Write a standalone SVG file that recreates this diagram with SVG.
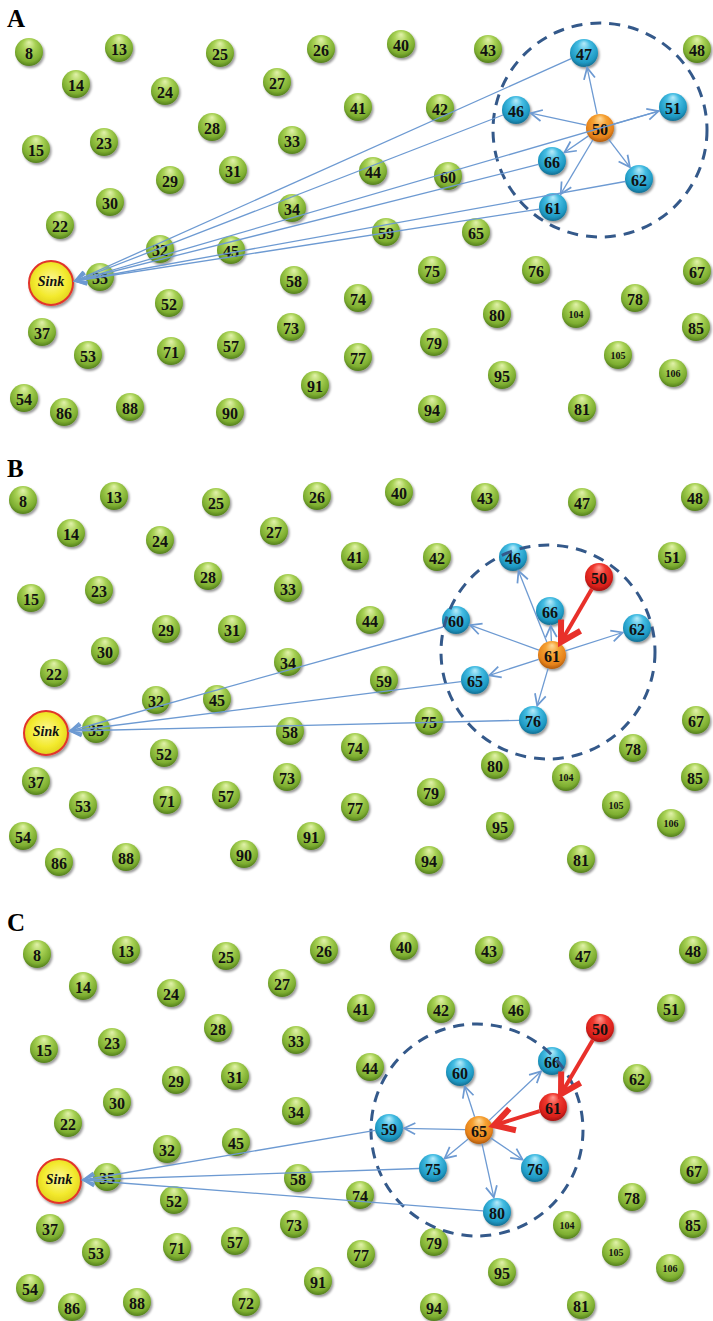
<svg xmlns="http://www.w3.org/2000/svg" width="713" height="1321" viewBox="0 0 713 1321">
<defs>
<style>
.n circle{filter:url(#sh)}
.g circle{fill:url(#gg)}
.b circle{fill:url(#gb)}
.o circle{fill:url(#go)}
.r circle{fill:url(#gr)}
.n text{font-family:"Liberation Serif","DejaVu Serif",serif;font-weight:bold;font-size:16px;text-anchor:middle;fill:#111}
.n text.s{font-size:10px}
.sink circle{fill:url(#gy);stroke:#e2352a;stroke-width:2;filter:url(#sh)}
.sink text{font-family:"Liberation Serif","DejaVu Serif",serif;font-weight:bold;font-style:italic;font-size:14px;text-anchor:middle;fill:#111}
.lbl{font-family:"Liberation Serif","DejaVu Serif",serif;font-weight:bold;font-size:25px;fill:#000}
.c{stroke:#6d9ad2;stroke-width:1.3;fill:none;marker-end:url(#ab)}
.rc{stroke:#e8302a;stroke-width:4;fill:none;marker-end:url(#ar)}
.ring{fill:none;stroke:#34598a;stroke-width:3;stroke-dasharray:11 8}
</style>
<filter id="sh" x="-40%" y="-40%" width="190%" height="190%">
<feDropShadow dx="1.5" dy="2" stdDeviation="1.3" flood-color="#000" flood-opacity="0.4"/>
</filter>
<radialGradient id="gg" cx="0.5" cy="0.42" r="0.6" fx="0.5" fy="0.15">
<stop offset="0" stop-color="#e2f2ac"/><stop offset="0.38" stop-color="#a9d256"/><stop offset="0.8" stop-color="#7dae30"/><stop offset="1" stop-color="#4e781b"/>
</radialGradient>
<radialGradient id="gb" cx="0.5" cy="0.42" r="0.6" fx="0.5" fy="0.15">
<stop offset="0" stop-color="#b8ecfa"/><stop offset="0.38" stop-color="#45bde3"/><stop offset="0.8" stop-color="#1f9ac4"/><stop offset="1" stop-color="#13698c"/>
</radialGradient>
<radialGradient id="go" cx="0.5" cy="0.42" r="0.6" fx="0.5" fy="0.15">
<stop offset="0" stop-color="#fdd99a"/><stop offset="0.38" stop-color="#f6a233"/><stop offset="0.8" stop-color="#e6821a"/><stop offset="1" stop-color="#a9560c"/>
</radialGradient>
<radialGradient id="gr" cx="0.5" cy="0.42" r="0.6" fx="0.5" fy="0.15">
<stop offset="0" stop-color="#ff9a90"/><stop offset="0.38" stop-color="#f03a30"/><stop offset="0.8" stop-color="#d9201a"/><stop offset="1" stop-color="#9c1010"/>
</radialGradient>
<radialGradient id="gy" cx="0.5" cy="0.45" r="0.6">
<stop offset="0" stop-color="#fbf79a"/><stop offset="0.6" stop-color="#f3ea2e"/><stop offset="1" stop-color="#dccb18"/>
</radialGradient>
<marker id="ab" markerUnits="userSpaceOnUse" markerWidth="20" markerHeight="20" refX="0" refY="0" viewBox="-12 -8 14 16" orient="auto" overflow="visible">
<path d="M-9,-4.5 L0,0 L-9,4.5" fill="none" stroke="#6d9ad2" stroke-width="1.4" stroke-linejoin="miter"/>
</marker>
<marker id="ar" markerUnits="userSpaceOnUse" markerWidth="30" markerHeight="30" refX="0" refY="0" viewBox="-16 -10 18 20" orient="auto" overflow="visible">
<path d="M-13,-7.5 L0,0 L-13,7.5" fill="none" stroke="#e8302a" stroke-width="4" stroke-linejoin="miter"/>
</marker>
</defs>
<rect width="713" height="1321" fill="#fff"/>

<!-- ===== Panel A ===== -->
<text class="lbl" x="7" y="27">A</text>
<g id="panelA-nodes">
<g id="a8" class="n g"><circle cx="29" cy="52" r="14"/><text x="29" y="58.5">8</text></g>
<g id="a13" class="n g"><circle cx="119" cy="48" r="14"/><text x="119" y="54.5">13</text></g>
<g id="a25" class="n g"><circle cx="220" cy="53" r="14"/><text x="220" y="59.5">25</text></g>
<g id="a26" class="n g"><circle cx="321" cy="49" r="14"/><text x="321" y="55.5">26</text></g>
<g id="a40" class="n g"><circle cx="401" cy="44" r="14"/><text x="401" y="50.5">40</text></g>
<g id="a43" class="n g"><circle cx="488" cy="49" r="14"/><text x="488" y="55.5">43</text></g>
<g id="a48" class="n g"><circle cx="697" cy="49" r="14"/><text x="697" y="55.5">48</text></g>
<g id="a14" class="n g"><circle cx="76" cy="84" r="14"/><text x="76" y="90.5">14</text></g>
<g id="a24" class="n g"><circle cx="165" cy="91" r="14"/><text x="165" y="97.5">24</text></g>
<g id="a27" class="n g"><circle cx="277" cy="82" r="14"/><text x="277" y="88.5">27</text></g>
<g id="a41" class="n g"><circle cx="358" cy="107" r="14"/><text x="358" y="113.5">41</text></g>
<g id="a42" class="n g"><circle cx="440" cy="108" r="14"/><text x="440" y="114.5">42</text></g>
<g id="a28" class="n g"><circle cx="212" cy="127" r="14"/><text x="212" y="133.5">28</text></g>
<g id="a33" class="n g"><circle cx="292" cy="140" r="14"/><text x="292" y="146.5">33</text></g>
<g id="a15" class="n g"><circle cx="36" cy="149" r="14"/><text x="36" y="155.5">15</text></g>
<g id="a23" class="n g"><circle cx="104" cy="142" r="14"/><text x="104" y="148.5">23</text></g>
<g id="a31" class="n g"><circle cx="233" cy="170" r="14"/><text x="233" y="176.5">31</text></g>
<g id="a29" class="n g"><circle cx="170" cy="180" r="14"/><text x="170" y="186.5">29</text></g>
<g id="a30" class="n g"><circle cx="110" cy="202" r="14"/><text x="110" y="208.5">30</text></g>
<g id="a34" class="n g"><circle cx="292" cy="208" r="14"/><text x="292" y="214.5">34</text></g>
<g id="a44" class="n g"><circle cx="373" cy="171" r="14"/><text x="373" y="177.5">44</text></g>
<g id="a60" class="n g"><circle cx="448" cy="176" r="14"/><text x="448" y="182.5">60</text></g>
<g id="a22" class="n g"><circle cx="60" cy="225" r="14"/><text x="60" y="231.5">22</text></g>
<g id="a32" class="n g"><circle cx="160" cy="249" r="14"/><text x="160" y="255.5">32</text></g>
<g id="a45" class="n g"><circle cx="231" cy="250" r="14"/><text x="231" y="256.5">45</text></g>
<g id="a59" class="n g"><circle cx="386" cy="232" r="14"/><text x="386" y="238.5">59</text></g>
<g id="a65" class="n g"><circle cx="476" cy="232" r="14"/><text x="476" y="238.5">65</text></g>
<g id="a35" class="n g"><circle cx="100" cy="277" r="14"/><text x="100" y="283.5">35</text></g>
<g id="a58" class="n g"><circle cx="294" cy="280" r="14"/><text x="294" y="286.5">58</text></g>
<g id="a75" class="n g"><circle cx="432" cy="270" r="14"/><text x="432" y="276.5">75</text></g>
<g id="a76" class="n g"><circle cx="536" cy="270" r="14"/><text x="536" y="276.5">76</text></g>
<g id="a67" class="n g"><circle cx="697" cy="271" r="14"/><text x="697" y="277.5">67</text></g>
<g id="a74" class="n g"><circle cx="358" cy="298" r="14"/><text x="358" y="304.5">74</text></g>
<g id="a78" class="n g"><circle cx="635" cy="298" r="14"/><text x="635" y="304.5">78</text></g>
<g id="a52" class="n g"><circle cx="169" cy="303" r="14"/><text x="169" y="309.5">52</text></g>
<g id="a80" class="n g"><circle cx="497" cy="314" r="14"/><text x="497" y="320.5">80</text></g>
<g id="a104" class="n g"><circle cx="576" cy="314" r="14"/><text class="s" x="576" y="318">104</text></g>
<g id="a73" class="n g"><circle cx="291" cy="327" r="14"/><text x="291" y="333.5">73</text></g>
<g id="a85" class="n g"><circle cx="696" cy="327" r="14"/><text x="696" y="333.5">85</text></g>
<g id="a37" class="n g"><circle cx="42" cy="332" r="14"/><text x="42" y="338.5">37</text></g>
<g id="a79" class="n g"><circle cx="434" cy="342" r="14"/><text x="434" y="348.5">79</text></g>
<g id="a57" class="n g"><circle cx="231" cy="345" r="14"/><text x="231" y="351.5">57</text></g>
<g id="a71" class="n g"><circle cx="171" cy="351" r="14"/><text x="171" y="357.5">71</text></g>
<g id="a53" class="n g"><circle cx="88" cy="355" r="14"/><text x="88" y="361.5">53</text></g>
<g id="a77" class="n g"><circle cx="358" cy="357" r="14"/><text x="358" y="363.5">77</text></g>
<g id="a105" class="n g"><circle cx="618" cy="355" r="14"/><text class="s" x="618" y="359">105</text></g>
<g id="a95" class="n g"><circle cx="502" cy="375" r="14"/><text x="502" y="381.5">95</text></g>
<g id="a106" class="n g"><circle cx="673" cy="373" r="14"/><text class="s" x="673" y="377">106</text></g>
<g id="a91" class="n g"><circle cx="315" cy="385" r="14"/><text x="315" y="391.5">91</text></g>
<g id="a54" class="n g"><circle cx="24" cy="398" r="14"/><text x="24" y="404.5">54</text></g>
<g id="a86" class="n g"><circle cx="64" cy="412" r="14"/><text x="64" y="418.5">86</text></g>
<g id="a88" class="n g"><circle cx="130" cy="407" r="14"/><text x="130" y="413.5">88</text></g>
<g id="a90" class="n g"><circle cx="230" cy="412" r="14"/><text x="230" y="418.5">90</text></g>
<g id="a94" class="n g"><circle cx="432" cy="409" r="14"/><text x="432" y="415.5">94</text></g>
<g id="a81" class="n g"><circle cx="582" cy="408" r="14"/><text x="582" y="414.5">81</text></g>
<g id="a47" class="n b"><circle cx="584" cy="53" r="14"/><text x="584" y="59.5">47</text></g>
<g id="a46" class="n b"><circle cx="516" cy="110" r="14"/><text x="516" y="116.5">46</text></g>
<g id="a51" class="n b"><circle cx="673" cy="107" r="14"/><text x="673" y="113.5">51</text></g>
<g id="a66" class="n b"><circle cx="552" cy="161" r="14"/><text x="552" y="167.5">66</text></g>
<g id="a62" class="n b"><circle cx="639" cy="179" r="14"/><text x="639" y="185.5">62</text></g>
<g id="a61" class="n b"><circle cx="553" cy="207" r="14"/><text x="553" y="213.5">61</text></g>
<g id="a50" class="n o"><circle cx="600" cy="128" r="14"/><text x="600" y="134.5">50</text></g>
<g id="aSink" class="sink"><circle cx="51" cy="283" r="22"/><text x="51" y="286">Sink</text></g>
</g>
<g id="panelA-connectors">
<circle class="ring" cx="600" cy="130" r="107"/>
<line class="c" x1="597.1" y1="114.3" x2="587.1" y2="67.7"/>
<line class="c" x1="586.3" y1="125.1" x2="530.7" y2="113.1"/>
<line class="c" x1="613.5" y1="124.1" x2="658.6" y2="111.1"/>
<line class="c" x1="588.5" y1="135.9" x2="564.4" y2="152.5"/>
<line class="c" x1="608.5" y1="139.1" x2="629.9" y2="167.1"/>
<line class="c" x1="592.8" y1="140" x2="560.7" y2="194.1"/>
<line class="c" x1="571.2" y1="58.7" x2="75" y2="281"/>
<line class="c" x1="503" y1="115" x2="75" y2="281"/>
<line class="c" x1="659.6" y1="110.9" x2="75" y2="281"/>
<line class="c" x1="538.4" y1="164.4" x2="75" y2="281"/>
<line class="c" x1="625.2" y1="181.5" x2="75" y2="281"/>
<line class="c" x1="539.2" y1="209.1" x2="75" y2="281"/>
</g>

<!-- ===== Panel B ===== -->
<text class="lbl" x="7" y="477">B</text>
<g id="panelB-nodes">
<g id="b8" class="n g"><circle cx="23" cy="500" r="14"/><text x="23" y="506.5">8</text></g>
<g id="b13" class="n g"><circle cx="114" cy="496" r="14"/><text x="114" y="502.5">13</text></g>
<g id="b25" class="n g"><circle cx="216" cy="502" r="14"/><text x="216" y="508.5">25</text></g>
<g id="b26" class="n g"><circle cx="317" cy="496" r="14"/><text x="317" y="502.5">26</text></g>
<g id="b40" class="n g"><circle cx="399" cy="492" r="14"/><text x="399" y="498.5">40</text></g>
<g id="b43" class="n g"><circle cx="485" cy="497" r="14"/><text x="485" y="503.5">43</text></g>
<g id="b47" class="n g"><circle cx="582" cy="502" r="14"/><text x="582" y="508.5">47</text></g>
<g id="b48" class="n g"><circle cx="695" cy="497" r="14"/><text x="695" y="503.5">48</text></g>
<g id="b14" class="n g"><circle cx="71" cy="533" r="14"/><text x="71" y="539.5">14</text></g>
<g id="b24" class="n g"><circle cx="160" cy="540" r="14"/><text x="160" y="546.5">24</text></g>
<g id="b27" class="n g"><circle cx="274" cy="531" r="14"/><text x="274" y="537.5">27</text></g>
<g id="b41" class="n g"><circle cx="355" cy="556" r="14"/><text x="355" y="562.5">41</text></g>
<g id="b42" class="n g"><circle cx="437" cy="557" r="14"/><text x="437" y="563.5">42</text></g>
<g id="b51" class="n g"><circle cx="672" cy="556" r="14"/><text x="672" y="562.5">51</text></g>
<g id="b28" class="n g"><circle cx="208" cy="576" r="14"/><text x="208" y="582.5">28</text></g>
<g id="b33" class="n g"><circle cx="288" cy="588" r="14"/><text x="288" y="594.5">33</text></g>
<g id="b15" class="n g"><circle cx="31" cy="598" r="14"/><text x="31" y="604.5">15</text></g>
<g id="b23" class="n g"><circle cx="99" cy="590" r="14"/><text x="99" y="596.5">23</text></g>
<g id="b44" class="n g"><circle cx="370" cy="620" r="14"/><text x="370" y="626.5">44</text></g>
<g id="b29" class="n g"><circle cx="166" cy="629" r="14"/><text x="166" y="635.5">29</text></g>
<g id="b31" class="n g"><circle cx="232" cy="629" r="14"/><text x="232" y="635.5">31</text></g>
<g id="b30" class="n g"><circle cx="105" cy="651" r="14"/><text x="105" y="657.5">30</text></g>
<g id="b34" class="n g"><circle cx="288" cy="662" r="14"/><text x="288" y="668.5">34</text></g>
<g id="b22" class="n g"><circle cx="54" cy="673" r="14"/><text x="54" y="679.5">22</text></g>
<g id="b32" class="n g"><circle cx="156" cy="700" r="14"/><text x="156" y="706.5">32</text></g>
<g id="b45" class="n g"><circle cx="217" cy="699" r="14"/><text x="217" y="705.5">45</text></g>
<g id="b59" class="n g"><circle cx="384" cy="680" r="14"/><text x="384" y="686.5">59</text></g>
<g id="b35" class="n g"><circle cx="96" cy="729" r="14"/><text x="96" y="735.5">35</text></g>
<g id="b58" class="n g"><circle cx="290" cy="731" r="14"/><text x="290" y="737.5">58</text></g>
<g id="b75" class="n g"><circle cx="429" cy="721" r="14"/><text x="429" y="727.5">75</text></g>
<g id="b67" class="n g"><circle cx="696" cy="720" r="14"/><text x="696" y="726.5">67</text></g>
<g id="b74" class="n g"><circle cx="355" cy="747" r="14"/><text x="355" y="753.5">74</text></g>
<g id="b78" class="n g"><circle cx="633" cy="748" r="14"/><text x="633" y="754.5">78</text></g>
<g id="b52" class="n g"><circle cx="164" cy="753" r="14"/><text x="164" y="759.5">52</text></g>
<g id="b80" class="n g"><circle cx="495" cy="765" r="14"/><text x="495" y="771.5">80</text></g>
<g id="b104" class="n g"><circle cx="566" cy="777" r="14"/><text class="s" x="566" y="781">104</text></g>
<g id="b85" class="n g"><circle cx="695" cy="777" r="14"/><text x="695" y="783.5">85</text></g>
<g id="b73" class="n g"><circle cx="287" cy="777" r="14"/><text x="287" y="783.5">73</text></g>
<g id="b37" class="n g"><circle cx="36" cy="781" r="14"/><text x="36" y="787.5">37</text></g>
<g id="b79" class="n g"><circle cx="431" cy="792" r="14"/><text x="431" y="798.5">79</text></g>
<g id="b57" class="n g"><circle cx="226" cy="795" r="14"/><text x="226" y="801.5">57</text></g>
<g id="b71" class="n g"><circle cx="167" cy="800" r="14"/><text x="167" y="806.5">71</text></g>
<g id="b53" class="n g"><circle cx="83" cy="805" r="14"/><text x="83" y="811.5">53</text></g>
<g id="b77" class="n g"><circle cx="355" cy="807" r="14"/><text x="355" y="813.5">77</text></g>
<g id="b105" class="n g"><circle cx="616" cy="805" r="14"/><text class="s" x="616" y="809">105</text></g>
<g id="b95" class="n g"><circle cx="500" cy="826" r="14"/><text x="500" y="832.5">95</text></g>
<g id="b106" class="n g"><circle cx="671" cy="823" r="14"/><text class="s" x="671" y="827">106</text></g>
<g id="b91" class="n g"><circle cx="311" cy="836" r="14"/><text x="311" y="842.5">91</text></g>
<g id="b54" class="n g"><circle cx="23" cy="836" r="14"/><text x="23" y="842.5">54</text></g>
<g id="b86" class="n g"><circle cx="59" cy="862" r="14"/><text x="59" y="868.5">86</text></g>
<g id="b88" class="n g"><circle cx="126" cy="857" r="14"/><text x="126" y="863.5">88</text></g>
<g id="b90" class="n g"><circle cx="244" cy="854" r="14"/><text x="244" y="860.5">90</text></g>
<g id="b94" class="n g"><circle cx="429" cy="860" r="14"/><text x="429" y="866.5">94</text></g>
<g id="b81" class="n g"><circle cx="581" cy="859" r="14"/><text x="581" y="865.5">81</text></g>
<g id="b46" class="n b"><circle cx="513" cy="557" r="14"/><text x="513" y="563.5">46</text></g>
<g id="b60" class="n b"><circle cx="456" cy="620" r="14"/><text x="456" y="626.5">60</text></g>
<g id="b66" class="n b"><circle cx="550" cy="611" r="14"/><text x="550" y="617.5">66</text></g>
<g id="b62" class="n b"><circle cx="637" cy="628" r="14"/><text x="637" y="634.5">62</text></g>
<g id="b65" class="n b"><circle cx="475" cy="680" r="14"/><text x="475" y="686.5">65</text></g>
<g id="b76" class="n b"><circle cx="533" cy="720" r="14"/><text x="533" y="726.5">76</text></g>
<g id="b61" class="n o"><circle cx="552" cy="655" r="14"/><text x="552" y="661.5">61</text></g>
<g id="b50" class="n r"><circle cx="599" cy="577" r="14"/><text x="599" y="583.5">50</text></g>
<g id="bSink" class="sink"><circle cx="46" cy="733" r="22"/><text x="46" y="736">Sink</text></g>
</g>
<g id="panelB-connectors">
<circle class="ring" cx="548" cy="652" r="107"/>
<line class="c" x1="546.8" y1="642" x2="518.5" y2="570.9"/>
<line class="c" x1="551.4" y1="641" x2="550.7" y2="626"/>
<line class="c" x1="565.3" y1="650.8" x2="622.7" y2="632.5"/>
<line class="c" x1="538.9" y1="650.2" x2="470.1" y2="625.1"/>
<line class="c" x1="538.7" y1="659.3" x2="489.3" y2="675.4"/>
<line class="c" x1="548.1" y1="668.4" x2="537.2" y2="705.6"/>
<line class="c" x1="443" y1="627" x2="70" y2="731"/>
<line class="c" x1="461.1" y1="681.7" x2="70" y2="731"/>
<line class="c" x1="519" y1="720.3" x2="70" y2="731"/>
<line class="rc" x1="591.8" y1="589" x2="561" y2="642"/>
</g>

<!-- ===== Panel C ===== -->
<text class="lbl" x="7" y="931">C</text>
<g id="panelC-nodes">
<g id="c8" class="n g"><circle cx="37" cy="954" r="14"/><text x="37" y="960.5">8</text></g>
<g id="c13" class="n g"><circle cx="126" cy="950" r="14"/><text x="126" y="956.5">13</text></g>
<g id="c25" class="n g"><circle cx="226" cy="956" r="14"/><text x="226" y="962.5">25</text></g>
<g id="c26" class="n g"><circle cx="324" cy="950" r="14"/><text x="324" y="956.5">26</text></g>
<g id="c40" class="n g"><circle cx="404" cy="946" r="14"/><text x="404" y="952.5">40</text></g>
<g id="c43" class="n g"><circle cx="489" cy="950" r="14"/><text x="489" y="956.5">43</text></g>
<g id="c47" class="n g"><circle cx="583" cy="955" r="14"/><text x="583" y="961.5">47</text></g>
<g id="c48" class="n g"><circle cx="693" cy="950" r="14"/><text x="693" y="956.5">48</text></g>
<g id="c14" class="n g"><circle cx="83" cy="986" r="14"/><text x="83" y="992.5">14</text></g>
<g id="c24" class="n g"><circle cx="171" cy="993" r="14"/><text x="171" y="999.5">24</text></g>
<g id="c27" class="n g"><circle cx="282" cy="983" r="14"/><text x="282" y="989.5">27</text></g>
<g id="c41" class="n g"><circle cx="361" cy="1008" r="14"/><text x="361" y="1014.5">41</text></g>
<g id="c42" class="n g"><circle cx="441" cy="1009" r="14"/><text x="441" y="1015.5">42</text></g>
<g id="c46" class="n g"><circle cx="516" cy="1009" r="14"/><text x="516" y="1015.5">46</text></g>
<g id="c51" class="n g"><circle cx="671" cy="1008" r="14"/><text x="671" y="1014.5">51</text></g>
<g id="c28" class="n g"><circle cx="218" cy="1028" r="14"/><text x="218" y="1034.5">28</text></g>
<g id="c33" class="n g"><circle cx="296" cy="1040" r="14"/><text x="296" y="1046.5">33</text></g>
<g id="c15" class="n g"><circle cx="44" cy="1049" r="14"/><text x="44" y="1055.5">15</text></g>
<g id="c23" class="n g"><circle cx="112" cy="1042" r="14"/><text x="112" y="1048.5">23</text></g>
<g id="c44" class="n g"><circle cx="370" cy="1067" r="14"/><text x="370" y="1073.5">44</text></g>
<g id="c62" class="n g"><circle cx="637" cy="1078" r="14"/><text x="637" y="1084.5">62</text></g>
<g id="c29" class="n g"><circle cx="176" cy="1080" r="14"/><text x="176" y="1086.5">29</text></g>
<g id="c31" class="n g"><circle cx="235" cy="1076" r="14"/><text x="235" y="1082.5">31</text></g>
<g id="c30" class="n g"><circle cx="117" cy="1102" r="14"/><text x="117" y="1108.5">30</text></g>
<g id="c34" class="n g"><circle cx="296" cy="1111" r="14"/><text x="296" y="1117.5">34</text></g>
<g id="c22" class="n g"><circle cx="68" cy="1123" r="14"/><text x="68" y="1129.5">22</text></g>
<g id="c32" class="n g"><circle cx="167" cy="1149" r="14"/><text x="167" y="1155.5">32</text></g>
<g id="c45" class="n g"><circle cx="236" cy="1142" r="14"/><text x="236" y="1148.5">45</text></g>
<g id="c35" class="n g"><circle cx="107" cy="1177" r="14"/><text x="107" y="1183.5">35</text></g>
<g id="c58" class="n g"><circle cx="298" cy="1178" r="14"/><text x="298" y="1184.5">58</text></g>
<g id="c67" class="n g"><circle cx="694" cy="1170" r="14"/><text x="694" y="1176.5">67</text></g>
<g id="c74" class="n g"><circle cx="360" cy="1195" r="14"/><text x="360" y="1201.5">74</text></g>
<g id="c78" class="n g"><circle cx="632" cy="1197" r="14"/><text x="632" y="1203.5">78</text></g>
<g id="c52" class="n g"><circle cx="174" cy="1200" r="14"/><text x="174" y="1206.5">52</text></g>
<g id="c73" class="n g"><circle cx="294" cy="1224" r="14"/><text x="294" y="1230.5">73</text></g>
<g id="c104" class="n g"><circle cx="567" cy="1225" r="14"/><text class="s" x="567" y="1229">104</text></g>
<g id="c85" class="n g"><circle cx="693" cy="1224" r="14"/><text x="693" y="1230.5">85</text></g>
<g id="c37" class="n g"><circle cx="50" cy="1228" r="14"/><text x="50" y="1234.5">37</text></g>
<g id="c57" class="n g"><circle cx="235" cy="1241" r="14"/><text x="235" y="1247.5">57</text></g>
<g id="c79" class="n g"><circle cx="434" cy="1242" r="14"/><text x="434" y="1248.5">79</text></g>
<g id="c71" class="n g"><circle cx="177" cy="1247" r="14"/><text x="177" y="1253.5">71</text></g>
<g id="c53" class="n g"><circle cx="96" cy="1252" r="14"/><text x="96" y="1258.5">53</text></g>
<g id="c77" class="n g"><circle cx="361" cy="1254" r="14"/><text x="361" y="1260.5">77</text></g>
<g id="c105" class="n g"><circle cx="616" cy="1252" r="14"/><text class="s" x="616" y="1256">105</text></g>
<g id="c106" class="n g"><circle cx="670" cy="1268" r="14"/><text class="s" x="670" y="1272">106</text></g>
<g id="c95" class="n g"><circle cx="502" cy="1272" r="14"/><text x="502" y="1278.5">95</text></g>
<g id="c91" class="n g"><circle cx="318" cy="1281" r="14"/><text x="318" y="1287.5">91</text></g>
<g id="c54" class="n g"><circle cx="30" cy="1288" r="14"/><text x="30" y="1294.5">54</text></g>
<g id="c86" class="n g"><circle cx="72" cy="1307" r="14"/><text x="72" y="1313.5">86</text></g>
<g id="c88" class="n g"><circle cx="137" cy="1302" r="14"/><text x="137" y="1308.5">88</text></g>
<g id="c72" class="n g"><circle cx="246" cy="1302" r="14"/><text x="246" y="1308.5">72</text></g>
<g id="c94" class="n g"><circle cx="434" cy="1307" r="14"/><text x="434" y="1313.5">94</text></g>
<g id="c81" class="n g"><circle cx="581" cy="1305" r="14"/><text x="581" y="1311.5">81</text></g>
<g id="c59" class="n b"><circle cx="389" cy="1128" r="14"/><text x="389" y="1134.5">59</text></g>
<g id="c60" class="n b"><circle cx="460" cy="1072" r="14"/><text x="460" y="1078.5">60</text></g>
<g id="c66" class="n b"><circle cx="552" cy="1061" r="14"/><text x="552" y="1067.5">66</text></g>
<g id="c75" class="n b"><circle cx="433" cy="1168" r="14"/><text x="433" y="1174.5">75</text></g>
<g id="c76" class="n b"><circle cx="535" cy="1168" r="14"/><text x="535" y="1174.5">76</text></g>
<g id="c80" class="n b"><circle cx="497" cy="1212" r="14"/><text x="497" y="1218.5">80</text></g>
<g id="c65" class="n o"><circle cx="479" cy="1130" r="14"/><text x="479" y="1136.5">65</text></g>
<g id="c50" class="n r"><circle cx="600" cy="1028" r="14"/><text x="600" y="1034.5">50</text></g>
<g id="c61" class="n r"><circle cx="553" cy="1107" r="14"/><text x="553" y="1113.5">61</text></g>
<g id="cSink" class="sink"><circle cx="59" cy="1181" r="22"/><text x="59" y="1184">Sink</text></g>
</g>
<g id="panelC-connectors">
<circle class="ring" cx="477" cy="1130" r="106"/>
<line class="c" x1="465" y1="1129.7" x2="404" y2="1128.3"/>
<line class="c" x1="474.6" y1="1116.7" x2="464.7" y2="1086.3"/>
<line class="c" x1="489.2" y1="1120.4" x2="541.1" y2="1071.3"/>
<line class="c" x1="468.2" y1="1138.9" x2="444.6" y2="1158.4"/>
<line class="c" x1="490.6" y1="1137.9" x2="522.6" y2="1159.6"/>
<line class="c" x1="482" y1="1143.7" x2="493.8" y2="1197.4"/>
<line class="c" x1="375.2" y1="1130.4" x2="83" y2="1180"/>
<line class="c" x1="419" y1="1168.5" x2="83" y2="1180"/>
<line class="c" x1="483" y1="1210.9" x2="83" y2="1180"/>
<line class="rc" x1="592.8" y1="1040" x2="561" y2="1094"/>
<line class="rc" x1="539.6" y1="1111.2" x2="494" y2="1125.3"/>
</g>
</svg>
